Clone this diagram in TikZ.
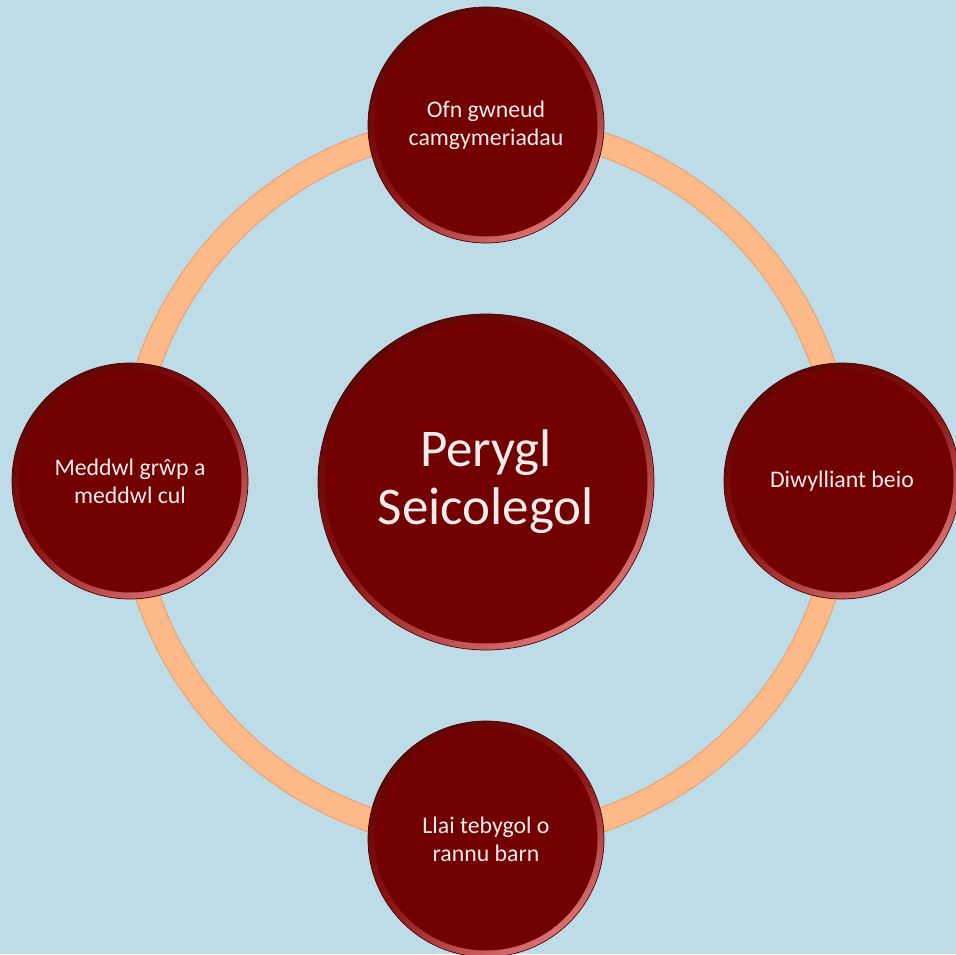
\documentclass[tikz,border=0pt]{standalone}
\usepackage{fontspec}
\setmainfont{Carlito}
\definecolor{bg}{HTML}{BEDCE7}
\definecolor{ringfill}{HTML}{FDB987}
\definecolor{ringedge}{HTML}{E9A575}
\definecolor{beadred}{HTML}{720000}
\definecolor{beaddark}{HTML}{600404}
\definecolor{beadmid}{HTML}{8A1414}
\definecolor{beadlight}{HTML}{DA7272}
\definecolor{beadedge}{HTML}{4A0000}
\definecolor{txt}{HTML}{F2ECEC}
\tikzset{
  bead/.style={circle, inner sep=0pt, minimum size=#1, draw=beadedge, line width=0.7pt,
    align=center, text=txt,
    path picture={
      \shade[top color=beaddark, bottom color=beadlight, middle color=beadmid, shading angle=35]
        (path picture bounding box.south west) rectangle (path picture bounding box.north east);
      \fill[beadred] (path picture bounding box.center) circle[radius=#1/2-6.5pt];
    }},
  small/.style={bead=236pt, font=\fontsize{23.8}{28}\selectfont},
  big/.style={bead=336pt, font=\fontsize{53}{58}\selectfont},
  ringstroke/.style={draw=ringedge, line width=25pt},
  ringinner/.style={draw=ringfill, line width=22.5pt}
}
\begin{document}
\begin{tikzpicture}[x=1pt,y=1pt]
\useasboundingbox (0,0) rectangle (956,954);
\fill[bg] (0,0) rectangle (956,954);
\coordinate (ctr) at (486,472);
\draw[ringstroke] (ctr) circle[radius=357];
\draw[ringinner] (ctr) circle[radius=357];
\node[big] (core) at (ctr) {Perygl\\Seicolegol};
\node[small] (top) at (486,829) {Ofn gwneud\\camgymeriadau};
\node[small] (left) at (130,473) {Meddwl grŵp a\\meddwl cul};
\node[small] (right) at (842,473) {Diwylliant beio};
\node[small] (bottom) at (486,115) {Llai tebygol o\\rannu barn};
\end{tikzpicture}
\end{document}
